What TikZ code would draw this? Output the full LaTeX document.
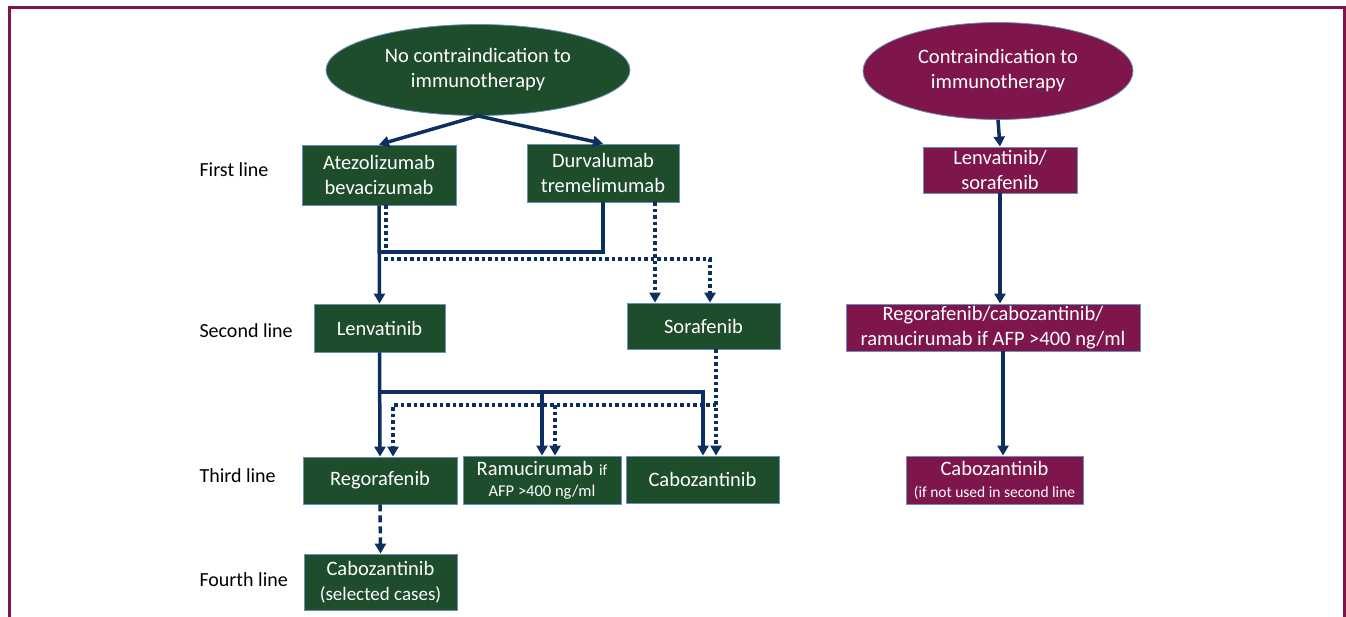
\documentclass[tikz,border=0pt]{standalone}
\usepackage{fontspec}
\setmainfont{Carlito}
\usepackage{xcolor}
\usepackage{tikz}
\usetikzlibrary{shapes.geometric, arrows.meta}

\definecolor{drugGreen}{HTML}{1E4D2B}
\definecolor{drugPlum}{HTML}{7E164B}
\definecolor{lineBlue}{HTML}{0D2F5F}
\definecolor{edgeBlue}{HTML}{6A90BE}

\tikzstyle{greenoval} = [ellipse, 
draw=edgeBlue, 
line width=0.8pt,
fill=drugGreen, 
text=white, 
align=center, 
inner sep=0pt,
font=\fontsize{20.5}{25}\selectfont]
\tikzstyle{plumoval} = [greenoval, fill=drugPlum]
\tikzstyle{greenbox} = [rectangle, 
draw=edgeBlue, 
line width=0.8pt,
fill=drugGreen, 
text=white, 
align=center, 
inner sep=0pt,
font=\fontsize{20.5}{25}\selectfont]
\tikzstyle{plumbox} = [greenbox, fill=drugPlum]
\tikzstyle{linelabel} = [anchor=west, font=\fontsize{20}{24}\selectfont]
\tikzstyle{conn} = [line width=3.5pt, draw=lineBlue]
\tikzstyle{dotconn} = [conn, dash pattern=on 3.5pt off 3pt]
\tikzstyle{arrow} = [conn, -{Triangle[length=10pt,width=11pt]}]
\tikzstyle{dotarrow} = [dotconn, -{Triangle[length=10pt,width=11pt]}]
\tikzstyle{dasharrow} = [conn, dash pattern=on 7pt off 4pt, -{Triangle[length=10pt,width=11pt]}]

\begin{document}
\begin{tikzpicture}[x=1pt, y=-1pt]

    \useasboundingbox (0,0) rectangle (1346,616);
    \draw [drugPlum, line width=3pt] (9.5,630) -- (9.5,7.5) -- (1344.5,7.5) -- (1344.5,630);

    % left branch
    \node (noci) [greenoval, minimum width=304, minimum height=91] at (478,70) {No contraindication to\\immunotherapy};
    \node (atezo) [greenbox, minimum width=154, minimum height=60] at (379,175) {Atezolizumab\\bevacizumab};
    \node (durva) [greenbox, minimum width=152, minimum height=58] at (603,173) {Durvalumab\\tremelimumab};
    \node (lenva) [greenbox, minimum width=131, minimum height=48] at (379.5,328) {Lenvatinib};
    \node (sora) [greenbox, minimum width=153, minimum height=46] at (703.5,326) {Sorafenib};
    \node (rego) [greenbox, minimum width=154, minimum height=47] at (380,480.5) {Regorafenib};
    \node (ramu) [greenbox, minimum width=158, minimum height=48] at (542,480) {Ramucirumab\hspace{6pt}{\fontsize{15.5}{18}\selectfont if}\\[-4pt]{\fontsize{16.5}{20}\selectfont AFP >400 ng/ml}};
    \node (cabo3) [greenbox, minimum width=153, minimum height=47] at (702.5,479.5) {Cabozantinib};
    \node (cabo4) [greenbox, minimum width=153, minimum height=56] at (380.5,582) {Cabozantinib\\{\fontsize{19}{23}\selectfont (selected cases)}};

    \node (first) [linelabel] at (196,170) {First line};
    \node (second) [linelabel] at (196,331) {Second line};
    \node (third) [linelabel] at (196,476) {Third line};
    \node (fourth) [linelabel] at (196,580) {Fourth line};

    % right branch
    \node (ci) [plumoval, minimum width=270, minimum height=97] at (998,71) {Contraindication to\\immunotherapy};
    \node (lensora) [plumbox, minimum width=154, minimum height=46] at (1000,170) {Lenvatinib/\\sorafenib};
    \node (regocabo) [plumbox, minimum width=294, minimum height=47] at (993,327.5) {Regorafenib/cabozantinib/\\ramucirumab if AFP >400 ng/ml};
    \node (cabor) [plumbox, minimum width=177, minimum height=48] at (994.5,480) {Cabozantinib\\[-3pt]{\fontsize{15.5}{18}\selectfont (if not used in second line}};

    \coordinate (sj1) at (380,252);
    \coordinate (dj1) at (386,259);
    \coordinate (sj2) at (380,392);
    \coordinate (dj2) at (716,405);

    \draw [arrow] (noci.south) -- (atezo.north);
    \draw [arrow] (noci.south) -- (durva.north);

    \draw [dotarrow] ([xshift=7pt]atezo.south) -- (dj1) -| ([xshift=6.5pt]sora.north);
    \draw [dotarrow] ([xshift=52pt]durva.south) -- ([xshift=-48.5pt]sora.north);
    \draw [conn] (durva.south) |- (sj1);
    \draw [arrow] (atezo.south) -- (lenva.north);

    \draw [dotarrow] ([xshift=12.5pt]sora.south) -- ([xshift=13.5pt]cabo3.north);
    \draw [dotarrow] (dj2) -| ([xshift=13pt]rego.north);
    \draw [dotarrow] ([xshift=13pt]ramu.north |- dj2) -- ([xshift=13pt]ramu.north);
    \draw [arrow] (lenva.south) -- (rego.north);
    \draw [arrow] (sj2) -| ([xshift=0.5pt]cabo3.north);
    \draw [arrow] (ramu.north |- sj2) -- (ramu.north);

    \draw [dasharrow] (rego.south) -- (cabo4.north);

    \draw [arrow] (ci.south) -- (lensora.north);
    \draw [arrow] (lensora.south) -- (lensora.south |- regocabo.north);
    \draw [arrow] ([xshift=10pt]regocabo.south) -- ([xshift=10pt]regocabo.south |- cabor.north);

\end{tikzpicture}
\end{document}
